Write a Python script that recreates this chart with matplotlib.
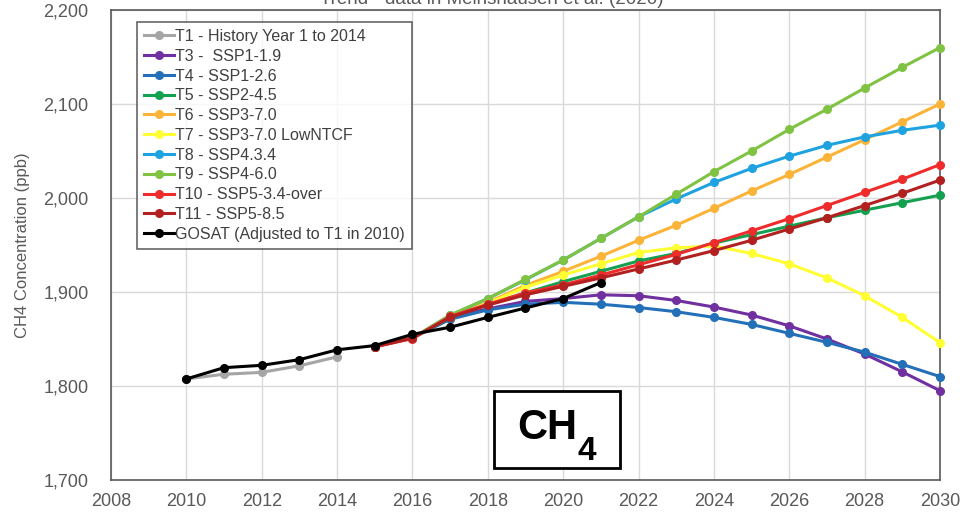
import matplotlib
matplotlib.use("Agg")
from matplotlib import pyplot as plt
from matplotlib.patches import Rectangle

plt.rcParams['font.family'] = ['Liberation Sans', 'DejaVu Sans']

# historical runs and GOSAT observations
hist_years = [2010, 2011, 2012, 2013, 2014]
t1_history = [1807.5, 1812.5, 1814.5, 1821.5, 1831]

gosat_years = list(range(2010, 2022))
gosat = [1807.5, 1819.5, 1822, 1828, 1838.5, 1843, 1855, 1862.5, 1873, 1883, 1893, 1910]

# scenario runs 2015-2030
ssp_years = list(range(2015, 2031))
t3_ssp119 = [1842, 1851, 1873, 1882, 1890, 1893, 1897, 1896, 1891, 1884, 1875.5, 1864, 1850, 1834, 1815, 1795]
t4_ssp126 = [1842, 1851, 1871, 1881, 1887, 1889, 1887, 1883.5, 1879, 1873, 1865.5, 1856, 1846.5, 1836, 1823, 1810]
t5_ssp245 = [1842, 1851, 1873, 1887, 1899, 1911, 1922, 1933, 1941, 1952, 1961, 1970, 1979, 1987, 1995, 2003]
t6_ssp370 = [1842, 1851, 1874, 1889, 1907, 1922, 1938, 1955, 1971, 1989, 2007.5, 2025, 2043.5, 2062, 2081, 2100]
t7_ssp370_lowntcf = [1842, 1851, 1874, 1888, 1905, 1918, 1930, 1942, 1947, 1949, 1941, 1930, 1915, 1896, 1873, 1846]
t8_ssp434 = [1842, 1851, 1875, 1893, 1913, 1934, 1957, 1980, 1999, 2016.5, 2031.5, 2044.5, 2056, 2065, 2072, 2077.5]
t9_ssp460 = [1842, 1851, 1875.5, 1893, 1913.5, 1934, 1957, 1980, 2004, 2028, 2050, 2073, 2094.5, 2117, 2139, 2160]
t10_ssp534 = [1841.5, 1850.5, 1874, 1887, 1899, 1907.5, 1918, 1929, 1940, 1952.5, 1965, 1978, 1992, 2006, 2020, 2035.5]
t11_ssp585 = [1842, 1851, 1873, 1886, 1897, 1906, 1915, 1924.5, 1934, 1944, 1955, 1967, 1979, 1992, 2005, 2019]

series = [
    (hist_years, t1_history, "T1 - History Year 1 to 2014", "#a5a5a5"),
    (ssp_years, t3_ssp119, "T3 -  SSP1-1.9", "#7030a0"),
    (ssp_years, t4_ssp126, "T4 - SSP1-2.6", "#2370b8"),
    (ssp_years, t5_ssp245, "T5 - SSP2-4.5", "#13a04f"),
    (ssp_years, t6_ssp370, "T6 - SSP3-7.0", "#fbb437"),
    (ssp_years, t7_ssp370_lowntcf, "T7 - SSP3-7.0 LowNTCF", "#ffff33"),
    (ssp_years, t8_ssp434, "T8 - SSP4.3.4", "#1fa3e0"),
    (ssp_years, t9_ssp460, "T9 - SSP4-6.0", "#80c343"),
    (ssp_years, t10_ssp534, "T10 - SSP5-3.4-over", "#ee2c2c"),
    (ssp_years, t11_ssp585, "T11 - SSP5-8.5", "#b22020"),
    (gosat_years, gosat, "GOSAT (Adjusted to T1 in 2010)", "black"),
]

fig = plt.figure(figsize=(9.75, 5.12), dpi=100)
ax = fig.add_axes([0.1138, 0.0625, 0.8503, 0.918])

for x, y, name, color in series:
    ax.plot(x, y, color=color, label=name, lw=2.2, marker="o", ms=5.5, clip_on=False, zorder=3)

ax.set_xlim(2008, 2030)
ax.set_ylim(1700, 2200)
ax.set_xticks(range(2008, 2031, 2))
ax.set_yticks(range(1700, 2201, 100))
ax.set_yticklabels(["{:,}".format(v) for v in range(1700, 2201, 100)])
ax.grid(color="#d9d9d9", lw=1)
ax.set_axisbelow(True)
for s in ax.spines.values():
    s.set_color("#595959")
    s.set_linewidth(1.2)
ax.tick_params(length=0, labelsize=13, colors="#595959")
ax.tick_params(axis="x", pad=9)
ax.tick_params(axis="y", pad=16)
ax.set_ylabel("CH4 Concentration (ppb)", fontsize=12, color="#595959", labelpad=10)

leg = ax.legend(loc="upper left", bbox_to_anchor=(0.031, 0.975), fontsize=11.5, frameon=True, fancybox=False,
                handlelength=1.9, handletextpad=0.05, labelspacing=0.3, borderpad=0.45, borderaxespad=0)
leg.get_frame().set_edgecolor("#404040")
leg.get_frame().set_linewidth(1.2)
for t in leg.get_texts():
    t.set_color("#404040")

# CH4 label box
ax.add_patch(Rectangle((0.4615, 0.0255), 0.153, 0.164, transform=ax.transAxes, fill=True,
                       facecolor="white", edgecolor="black", lw=2, zorder=4))
ax.annotate("CH", xy=(0.5375, 0.1075), xycoords="axes fraction", xytext=(-6.5, -6.5),
            textcoords="offset points", ha="center", va="baseline", fontsize=30, fontweight="bold", zorder=5)
ax.annotate("4", xy=(0.5375, 0.1075), xycoords="axes fraction", xytext=(15, -22),
            textcoords="offset points", ha="left", va="baseline", fontsize=24, fontweight="bold", zorder=5)

fig.text(0.504, 1 - 4 / 512, "Trend - data in Meinshausen et al. (2020)", ha="center", va="baseline",
         fontsize=13.5, color="#595959")

fig.savefig("out.png", dpi=100)
